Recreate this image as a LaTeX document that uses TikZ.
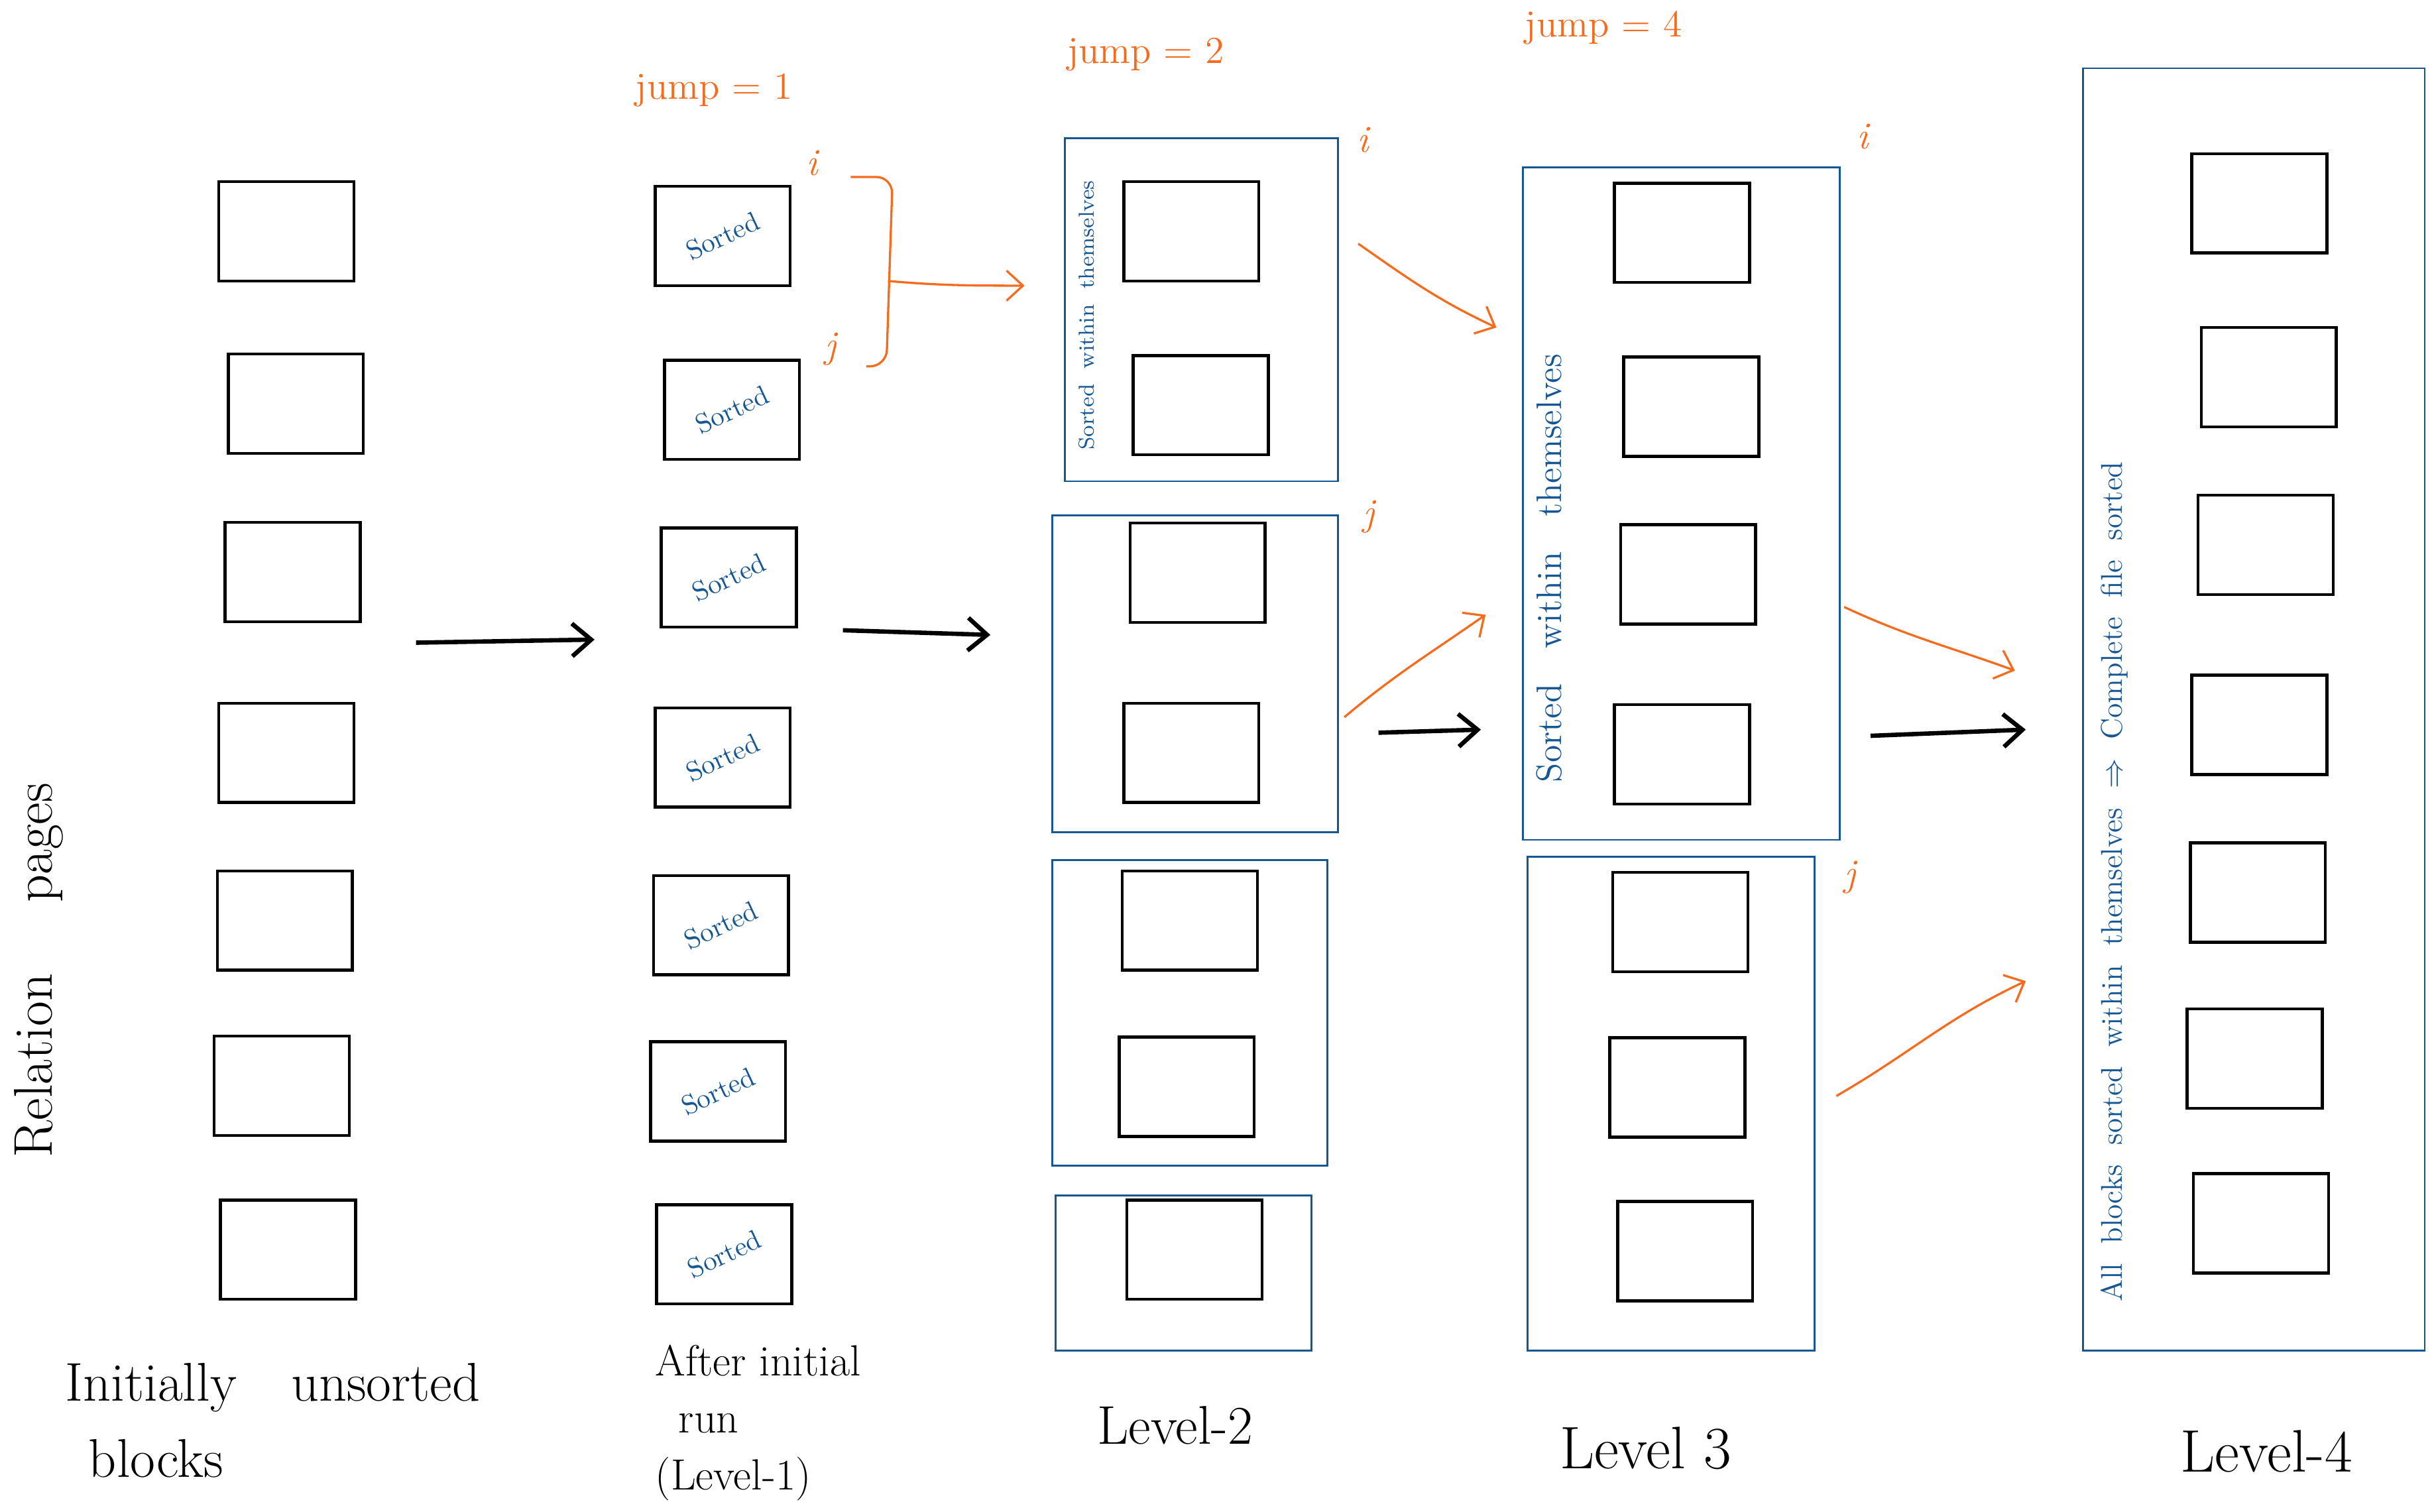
\documentclass[tikz,border=0pt]{standalone}
\usetikzlibrary{arrows.meta}
\definecolor{penorange}{RGB}{245,108,30}
\definecolor{penblue}{RGB}{22,86,146}
\tikzset{
    page/.style={draw, line width=1.1pt, minimum width=1.74cm, minimum height=1.28cm, inner sep=0pt},
    run/.style={page, text=penblue, font=\fontsize{10}{12}\selectfont},
    frame/.style={draw=penblue, line width=0.7pt},
    note/.style={text=penblue, rotate=90},
    ptr/.style={text=penorange, font=\fontsize{14}{16}\selectfont},
    pass/.style={line width=1.6pt, -{Straight Barb[length=7pt, width=12pt]}},
    hop/.style={penorange, line width=0.8pt, -{Straight Barb[length=6pt, width=11pt]}},
    caption/.style={font=\fontsize{20}{26}\selectfont}
}
\begin{document}
\begin{tikzpicture}[x=0.02cm, y=-0.02cm]
        \useasboundingbox (0,0) rectangle (1568,974);

        % Column 1: initially unsorted blocks
        \foreach \x/\y [count=\n] in {184.5/149, 190.5/260, 188.5/368.5, 184.5/485, 183.5/593, 181.5/699.5, 185.5/805} {
            \node[page] (a\n) at (\x,\y) {};
        }
        \node[caption, rotate=90] (rel) at (25,625) {Relation\quad\ pages};

        % Column 2: after initial run, every block sorted
        \foreach \x/\y [count=\n] in {465.5/152, 471.5/264, 469.5/372, 465.5/488, 464.5/596, 462.5/703, 466.5/808} {
            \node[run] (b\n) at (\x,\y) {\rotatebox{25}{Sorted}};
        }

        % Column 3: level 2, pairs of blocks
        \foreach \x/\y [count=\n] in {767.5/149, 773.5/261, 771.5/369, 767.5/485, 766.5/593, 764.5/700, 769.5/805} {
            \node[page] (c\n) at (\x,\y) {};
        }
        \draw[frame] (686,89) rectangle (862,310);
        \draw[frame] (678,332) rectangle (862,536);
        \draw[frame] (678,554) rectangle (855,751);
        \draw[frame] (680,770) rectangle (845,870);
        \node[note, font=\fontsize{8}{10}\selectfont] (sc) at (700,203) {Sorted\ \ within\ \ themselves};

        % Column 4: level 3, groups of four
        \foreach \x/\y [count=\n] in {1083.5/150, 1089.5/262, 1087.5/370, 1083.5/486, 1082.5/594, 1080.5/700.5, 1085.5/806} {
            \node[page] (d\n) at (\x,\y) {};
        }
        \draw[frame] (981,108) rectangle (1185,541);
        \draw[frame] (984,552) rectangle (1169,870);
        \node[note, font=\fontsize{13}{15}\selectfont] (sd) at (998,366) {Sorted\quad within\quad themselves};

        % Column 5: level 4, whole file
        \foreach \x/\y [count=\n] in {1455.5/131, 1461.5/243, 1459.5/351, 1455.5/467, 1454.5/575, 1452.5/682, 1456.5/788} {
            \node[page] (e\n) at (\x,\y) {};
        }
        \draw[frame] (1342,44) rectangle (1562,870);
        \node[note, font=\fontsize{11}{13}\selectfont] (se) at (1362,568) {All\ \ blocks\ \ sorted\ \ within\ \ themselves\ \ $\Rightarrow$\ \ Complete\ \ file\ \ sorted};

        % Passes between the columns
        \coordinate (p1) at (268,414); \coordinate (q1) at (383,412);
        \coordinate (p2) at (543,406); \coordinate (q2) at (638,409);
        \coordinate (p3) at (888,472); \coordinate (q3) at (954,470);
        \coordinate (p4) at (1205,474); \coordinate (q4) at (1305,470);
        \foreach \n in {1,...,4} {
            \draw[pass] (p\n) -- (q\n);
        }

        % Jump sizes
        \node[ptr] (j1) at (460,58) {jump = 1};
        \node[ptr] (j2) at (738,35) {jump = 2};
        \node[ptr] (j4) at (1033,18) {jump = 4};

        % Merge of two runs, level 1 to level 2
        \node[ptr, font=\fontsize{14}{16}\selectfont\itshape] (i1) at (523,105) {i};
        \node[ptr, font=\fontsize{14}{16}\selectfont\itshape] (k1) at (535,225) {j};
        \coordinate (bi) at (548,114);
        \coordinate (bj) at (558,236);
        \coordinate (fork) at (572,181);
        \coordinate (tgt) at (660,184);
        \draw[penorange, line width=0.8pt, rounded corners=6pt] (bi) -- (575,114) -- (571,236) -- (bj);
        \draw[hop] (fork) to[out=-5, in=180] (tgt);

        % Merge of two runs, level 2 to level 3
        \node[ptr, font=\fontsize{14}{16}\selectfont\itshape] (i2) at (878,90) {i};
        \node[ptr, font=\fontsize{14}{16}\selectfont\itshape] (k2) at (882,333) {j};
        \coordinate (m1) at (875,157); \coordinate (n1) at (964,211);
        \coordinate (m2) at (866,462); \coordinate (n2) at (957,396);
        \draw[hop] (m1) to[out=-35, in=155] (n1);
        \draw[hop] (m2) to[out=40, in=215] (n2);

        % Merge of two runs, level 3 to level 4
        \node[ptr, font=\fontsize{14}{16}\selectfont\itshape] (i3) at (1200,88) {i};
        \node[ptr, font=\fontsize{14}{16}\selectfont\itshape] (k3) at (1192,565) {j};
        \coordinate (m3) at (1188,391); \coordinate (n3) at (1298,432);
        \coordinate (m4) at (1183,706); \coordinate (n4) at (1305,632);
        \draw[hop] (m3) to[out=-25, in=160] (n3);
        \draw[hop] (m4) to[out=30, in=205] (n4);

        % Captions
        \node[caption, anchor=north west, align=left] (capa) at (36,872) {Initially\quad unsorted\\[2pt]\hspace*{0.3cm}blocks};
        \node[caption, anchor=north west, align=left, font=\fontsize{16}{21}\selectfont] (capb) at (416,860) {After\ initial\\\hspace*{0.3cm}run\\(Level-1)};
        \node[caption] (capc) at (757,918) {Level-2};
        \node[caption, font=\fontsize{22}{26}\selectfont] (capd) at (1060,933) {Level 3};
        \node[caption, font=\fontsize{22}{26}\selectfont] (cape) at (1460,935) {Level-4};
    \end{tikzpicture}
\end{document}
